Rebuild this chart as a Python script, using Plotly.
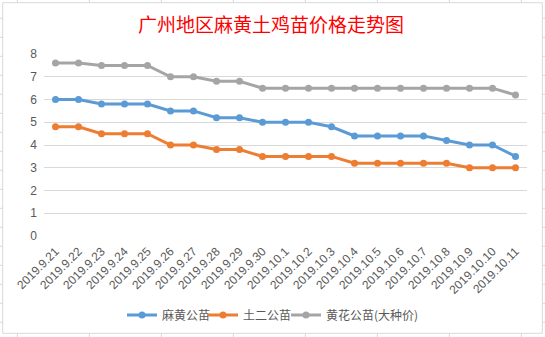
import plotly.graph_objects as go

dates = ["2019.9.21", "2019.9.22", "2019.9.23", "2019.9.24", "2019.9.25", "2019.9.26",
         "2019.9.27", "2019.9.28", "2019.9.29", "2019.9.30", "2019.10.1", "2019.10.2",
         "2019.10.3", "2019.10.4", "2019.10.5", "2019.10.6", "2019.10.7", "2019.10.8",
         "2019.10.9", "2019.10.10", "2019.10.11"]
mahuang = [6.0, 6.0, 5.8, 5.8, 5.8, 5.5, 5.5, 5.2, 5.2, 5.0, 5.0, 5.0, 4.8, 4.4, 4.4,
           4.4, 4.4, 4.2, 4.0, 4.0, 3.5]
tuer = [4.8, 4.8, 4.5, 4.5, 4.5, 4.0, 4.0, 3.8, 3.8, 3.5, 3.5, 3.5, 3.5, 3.2, 3.2,
        3.2, 3.2, 3.2, 3.0, 3.0, 3.0]
huanghua = [7.6, 7.6, 7.5, 7.5, 7.5, 7.0, 7.0, 6.8, 6.8, 6.5, 6.5, 6.5, 6.5, 6.5, 6.5,
            6.5, 6.5, 6.5, 6.5, 6.5, 6.2]
names = ["麻黄公苗", "土二公苗", "黄花公苗(大种价)"]
colors = ["#5B9BD5", "#ED7D31", "#A5A5A5"]
yticks = [0, 1, 2, 3, 4, 5, 6, 7, 8]
title = "广州地区麻黄土鸡苗价格走势图"

W, H = 545, 337
L, R, T, B = 44, 18, 54, 101
PW, PH = W - L - R, H - T - B


def px(x):
    return (x - L) / PW


def py(y):
    return (H - B - y) / PH


legend_ids = ["legend", "legend2", "legend3"]
legend_x = [122, 203, 286]

fig = go.Figure()
for name, vals, c, lid in zip(names, [mahuang, tuer, huanghua], colors, legend_ids):
    fig.add_trace(go.Scatter(
        x=list(range(len(dates))), y=vals, name=name, mode="lines+markers",
        line=dict(color=c, width=3), marker=dict(color=c, size=7), legend=lid,
    ))

shapes = []
grid = "#D9D9D9"
# chart border
shapes.append(dict(type="rect", xref="paper", yref="paper",
                   x0=px(2.7), x1=px(542.3), y0=py(333.3), y1=py(2.7),
                   line=dict(color=grid, width=1), fillcolor="rgba(0,0,0,0)"))
# spreadsheet grid stubs outside the chart
for k in range(8):
    xx = 17.4 + 72.0 * k
    shapes.append(dict(type="line", xref="paper", yref="paper", x0=px(xx), x1=px(xx),
                       y0=py(0), y1=py(2.7), line=dict(color=grid, width=1)))
    shapes.append(dict(type="line", xref="paper", yref="paper", x0=px(xx), x1=px(xx),
                       y0=py(333.3), y1=py(337), line=dict(color=grid, width=1)))
k = 0
while 18.3 + 19.0 * k < 333:
    yy = 18.3 + 19.0 * k
    shapes.append(dict(type="line", xref="paper", yref="paper", x0=px(0), x1=px(2.7),
                       y0=py(yy), y1=py(yy), line=dict(color=grid, width=1)))
    shapes.append(dict(type="line", xref="paper", yref="paper", x0=px(542.3), x1=px(545),
                       y0=py(yy), y1=py(yy), line=dict(color=grid, width=1)))
    k += 1

legends = {}
for lid, lx in zip(legend_ids, legend_x):
    legends[lid] = dict(orientation="h", x=px(lx), xanchor="left", y=py(315),
                        yanchor="middle", font=dict(family="Noto Sans CJK SC", size=12,
                                                    color="#595959"),
                        itemwidth=30, bgcolor="rgba(0,0,0,0)")

fig.update_layout(
    width=W, height=H,
    margin=dict(l=L, r=R, t=T, b=B, pad=0, autoexpand=False),
    paper_bgcolor="white", plot_bgcolor="white",
    font=dict(family="Liberation Sans, Noto Sans CJK SC", color="#595959", size=11),
    title=dict(text=title, x=271 / W, xanchor="center", y=1 - 25 / H, yanchor="middle",
               font=dict(family="Noto Sans CJK SC", size=19, color="#FF0000")),
    xaxis=dict(range=[-0.5, len(dates) - 0.5], tickmode="array",
               tickvals=list(range(len(dates))), ticktext=dates, tickangle=-45,
               showgrid=False, zeroline=False, showline=False, ticks="",
               ticklabelstandoff=5, automargin=False,
               tickfont=dict(size=12, color="#595959"), fixedrange=True),
    yaxis=dict(range=[0, 8], tickmode="array", tickvals=yticks,
               ticktext=[str(v) for v in yticks], showgrid=True, gridcolor=grid,
               gridwidth=1, zeroline=False, showline=False, ticks="",
               automargin=False,
               ticklabelstandoff=6, tickfont=dict(size=12, color="#595959")),
    shapes=shapes,
    showlegend=True,
    **legends,
)
fig.write_html("out.html")
